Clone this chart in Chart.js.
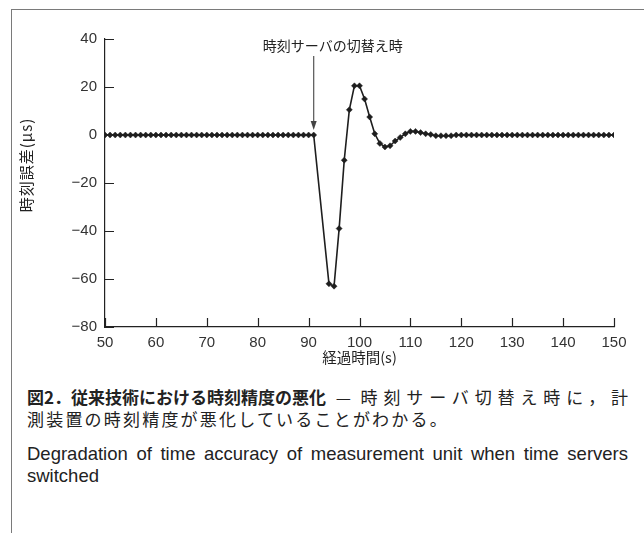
<!DOCTYPE html>
<html>
<head>
<meta charset="utf-8">
<script src="https://cdn.jsdelivr.net/npm/chart.js@4"></script>
<style>
  html, body { margin: 0; padding: 0; background: #fff; }
  body { width: 644px; height: 533px; position: relative; overflow: hidden; }
  #frame { position: absolute; left: 11px; top: 9px; right: -5px; bottom: -5px;
           border-left: 1px solid #7a7a7a; border-top: 1px solid #7a7a7a; }
  #wrap { position: absolute; left: 0; top: 0; width: 644px; height: 366px; }
  #caption { position: absolute; left: 27px; top: 386px; width: 601px;
             font-family: "Noto Sans CJK JP", sans-serif; color: #222; }
  #caption .jp { font-size: 17px; line-height: 22px; white-space: nowrap; }
  #caption .jp.l2 { letter-spacing: 2.2px; }
  #caption .full { text-align: justify; text-align-last: justify; white-space: normal; }
  #caption .jp b { font-weight: bold; display: inline-block; letter-spacing: 0; }
  #caption .en { font-family: "Liberation Sans", Arial, sans-serif;
                 font-size: 18.5px; line-height: 22px; white-space: nowrap; }
  #caption .en.first { margin-top: 13px; }
</style>
</head>
<body>
<div id="frame"></div>
<div id="wrap"><canvas id="errChart" width="644" height="366"></canvas></div>
<div id="caption">
  <div class="jp full"><b>図2．従来技術における時刻精度の悪化</b> — 時刻サーバ切替え時に，計</div>
  <div class="jp l2">測装置の時刻精度が悪化していることがわかる。</div>
  <div class="en full first">Degradation of time accuracy of measurement unit when time servers</div>
  <div class="en">switched</div>
</div>
<script>
// 経過時間(s)
const timeS = [
  50, 51, 52, 53, 54, 55, 56, 57, 58, 59, 60, 61, 62, 63, 64, 65, 66, 67, 68, 69,
  70, 71, 72, 73, 74, 75, 76, 77, 78, 79, 80, 81, 82, 83, 84, 85, 86, 87, 88, 89,
  90, 91,
  94, 95, 96, 97, 98, 99, 100, 101, 102, 103, 104, 105, 106, 107, 108, 109,
  110, 111, 112, 113, 114, 115, 116, 117, 118, 119, 120, 121, 122, 123, 124, 125,
  126, 127, 128, 129, 130, 131, 132, 133, 134, 135, 136, 137, 138, 139, 140, 141,
  142, 143, 144, 145, 146, 147, 148, 149, 150
];
// 時刻誤差(μs)
const errorUs = [
  0, 0, 0, 0, 0, 0, 0, 0, 0, 0, 0, 0, 0, 0, 0, 0, 0, 0, 0, 0,
  0, 0, 0, 0, 0, 0, 0, 0, 0, 0, 0, 0, 0, 0, 0, 0, 0, 0, 0, 0,
  0, 0,
  -62, -63, -39, -10.5, 10.5, 20.5, 20.5, 15, 7.5, 0.5, -3.5, -5, -4.5, -2.5, -1, 0.5,
  1.5, 1.5, 1, 0.5, 0.2, -0.3, -0.3, -0.3, -0.3, 0, 0, 0, 0, 0, 0, 0,
  0, 0, 0, 0, 0, 0, 0, 0, 0, 0, 0, 0, 0, 0, 0, 0,
  0, 0, 0, 0, 0, 0, 0, 0, 0
];
const xTicks = [50, 60, 70, 80, 90, 100, 110, 120, 130, 140, 150];
const yTicks = [-80, -60, -40, -20, 0, 20, 40];
const switchTime = 91;
const switchLabel = '時刻サーバの切替え時';

const points = timeS.map((t, i) => ({ x: t, y: errorUs[i] }));

// 内向きの目盛り線、注記の矢印、縦軸タイトル
const extras = {
  id: 'extras',
  afterDraw(chart) {
    const { ctx, chartArea, scales } = chart;
    const xs = scales.x, ys = scales.y;
    ctx.save();
    ctx.strokeStyle = '#222';
    ctx.lineWidth = 1.2;
    ctx.beginPath();
    yTicks.forEach(v => {
      const py = Math.round(ys.getPixelForValue(v)) + 0.5;
      ctx.moveTo(chartArea.left, py);
      ctx.lineTo(chartArea.left + 9, py);
    });
    xTicks.forEach(v => {
      const px = Math.round(xs.getPixelForValue(v)) + 0.5;
      ctx.moveTo(px, chartArea.bottom);
      ctx.lineTo(px, chartArea.bottom - 9);
    });
    ctx.stroke();

    // 矢印
    const ax = xs.getPixelForValue(switchTime);
    const ay = ys.getPixelForValue(0) - 5;
    ctx.strokeStyle = '#555';
    ctx.fillStyle = '#444';
    ctx.lineWidth = 1.2;
    ctx.beginPath();
    ctx.moveTo(ax, 56);
    ctx.lineTo(ax, ay - 6);
    ctx.stroke();
    ctx.beginPath();
    ctx.moveTo(ax - 3, ay - 9);
    ctx.lineTo(ax + 3, ay - 9);
    ctx.lineTo(ax, ay);
    ctx.closePath();
    ctx.fill();

    ctx.fillStyle = '#222';
    ctx.font = '14px "Noto Sans CJK JP"';
    ctx.textAlign = 'center';
    ctx.textBaseline = 'middle';
    ctx.fillText(switchLabel, ax + 19, 46);

    // 縦軸タイトル
    ctx.translate(26, 165);
    ctx.rotate(-Math.PI / 2);
    ctx.font = '15px "Noto Sans CJK JP"';
    ctx.letterSpacing = '1px';
    ctx.fillText('時刻誤差(μs)', 0, 0);
    ctx.restore();
  }
};

const ctx = document.getElementById('errChart').getContext('2d');
new Chart(ctx, {
  type: 'line',
  data: {
    datasets: [{
      data: points,
      borderColor: '#1e1e1e',
      borderWidth: 1.6,
      pointStyle: 'rectRot',
      pointRadius: 3,
      pointBackgroundColor: '#1e1e1e',
      pointBorderColor: '#1e1e1e',
      pointBorderWidth: 0.5,
      tension: 0,
      fill: false
    }]
  },
  options: {
    responsive: false,
    animation: false,
    events: [],
    layout: { padding: { left: 0, right: 30, top: 39, bottom: 0 } },
    plugins: { legend: { display: false }, tooltip: { enabled: false } },
    scales: {
      x: {
        type: 'linear',
        min: 50,
        max: 150,
        afterBuildTicks: s => { s.ticks = xTicks.map(v => ({ value: v })); },
        afterFit: s => { s.height = 39; },
        grid: { display: false, drawTicks: false },
        border: { display: true, color: '#222', width: 1.2 },
        ticks: {
          padding: 7,
          color: '#333',
          font: { family: '"Liberation Sans", Arial, sans-serif', size: 15 },
          maxRotation: 0
        },
        title: {
          display: true,
          text: '経過時間(s)',
          color: '#222',
          font: { family: '"Noto Sans CJK JP"', size: 14.5 },
          padding: { top: 2, bottom: 0 }
        }
      },
      y: {
        min: -80,
        max: 40,
        afterBuildTicks: s => { s.ticks = yTicks.map(v => ({ value: v })); },
        afterFit: s => { s.width = 105; },
        grid: { display: false, drawTicks: false },
        border: { display: true, color: '#222', width: 1.2 },
        ticks: {
          padding: 8,
          color: '#333',
          font: { family: '"Liberation Sans", Arial, sans-serif', size: 15 },
          callback: v => String(v).replace('-', '\u2212')
        }
      }
    }
  },
  plugins: [extras]
});
</script>
</body>
</html>
